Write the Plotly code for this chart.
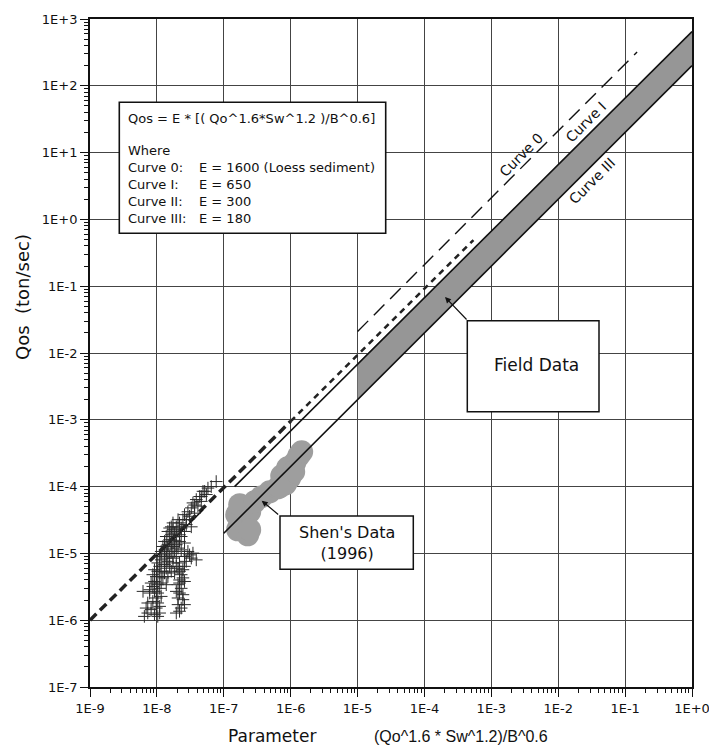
import plotly.graph_objects as go

# ---------------- data ----------------
x_tick_vals = [1e-9, 1e-8, 1e-7, 1e-6, 1e-5, 1e-4, 1e-3, 1e-2, 1e-1, 1e0]
x_tick_text = ["1E-9", "1E-8", "1E-7", "1E-6", "1E-5", "1E-4", "1E-3", "1E-2", "1E-1", "1E+0"]
y_tick_vals = [1e-7, 1e-6, 1e-5, 1e-4, 1e-3, 1e-2, 1e-1, 1e0, 1e1, 1e2, 1e3]
y_tick_text = ["1E-7", "1E-6", "1E-5", "1E-4", "1E-3", "1E-2", "1E-1", "1E+0", "1E+1", "1E+2", "1E+3"]

# Curve 0 (long dash)
curve0_x = [1e-5, 0.151]
curve0_y = [0.021, 320]
# Curve I (solid, upper edge of field-data band)
curve1_x = [1.45e-7, 1.0]
curve1_y = [1.0e-4, 650]
# Curve III (solid, lower edge of field-data band)
curve3_x = [1e-7, 1.0]
curve3_y = [2.0e-5, 200]
# short-dash line (thick lower part, thinner upper part)
dash_lo_x = [1e-9, 1e-6]
dash_lo_y = [1e-6, 9.5e-4]
dash_hi_x = [1e-6, 5.4e-4]
dash_hi_y = [9.5e-4, 0.49]
# short solid segment through the crosses
seg_x = [9.8e-9, 4.9e-8]
seg_y = [9.0e-6, 4.5e-5]
# field data band
band_x = [1e-5, 1.0, 1.0, 1e-5]
band_y = [0.007, 650, 200, 0.002]

# Shen's data (1996) - grey blob
shen_x = [1.61e-7, 2.05e-7, 1.56e-7, 2.44e-7, 1.73e-7, 2.89e-7, 3.68e-7, 4.85e-7,
          6.4e-7, 8.41e-7, 7.35e-7, 9.66e-7, 9.0e-7, 1.15e-6, 1.32e-6, 1.46e-6,
          1.11e-6, 2.28e-7, 2.44e-7, 6.86e-7]
shen_y = [2.26e-5, 2.97e-5, 3.79e-5, 4.2e-5, 5.35e-5, 5.93e-5, 7.05e-5, 8.36e-5,
          9.6e-5, 1.10e-4, 1.45e-4, 1.35e-4, 1.91e-4, 2.27e-4, 2.89e-4, 3.32e-4,
          1.67e-4, 1.90e-5, 2.26e-5, 9.93e-5]

# crosses (laboratory data)
cross_x = [7.7e-8, 5.8e-8, 4.89e-8, 5.49e-8, 4.36e-8, 3.88e-8, 4.61e-8, 3.46e-8, 4.11e-8, 3.27e-8,
           2.91e-8, 3.66e-8, 2.59e-8, 3.08e-8, 2.45e-8, 2.18e-8, 2.75e-8, 3.27e-8, 1.95e-8, 2.31e-8,
           1.74e-8, 2.07e-8, 2.59e-8, 1.64e-8, 1.95e-8, 2.31e-8, 1.55e-8, 1.84e-8, 2.18e-8, 2.59e-8,
           1.46e-8, 1.74e-8, 2.07e-8, 1.38e-8, 1.64e-8, 2.91e-8, 3.46e-8, 1.30e-8, 1.55e-8, 1.95e-8,
           3.27e-8, 3.88e-8, 1.16e-8, 1.46e-8, 1.74e-8, 2.18e-8, 2.75e-8, 1.10e-8, 1.38e-8, 2.07e-8,
           2.45e-8, 1.03e-8, 1.30e-8, 1.84e-8, 2.31e-8, 9.8e-9, 1.23e-8, 2.18e-8, 2.59e-8, 9.2e-9,
           1.16e-8, 2.07e-8, 8.7e-9, 1.10e-8, 2.31e-8, 6.2e-9, 7.8e-9, 1.03e-8, 2.18e-8, 9.8e-9,
           2.07e-8, 2.45e-8, 7.3e-9, 1.03e-8, 6.9e-9, 9.8e-9, 2.31e-8, 1.10e-8, 7.3e-9, 2.18e-8,
           1.03e-8,
           1.64e-8, 1.46e-8, 1.84e-8, 1.38e-8, 2.18e-8, 1.30e-8, 1.64e-8, 1.23e-8, 1.95e-8, 1.46e-8,
           1.16e-8, 1.84e-8, 2.31e-8, 1.10e-8, 1.38e-8, 1.74e-8, 2.59e-8, 3.08e-8, 1.03e-8, 1.30e-8,
           1.55e-8, 1.95e-8, 2.59e-8, 9.2e-9, 1.16e-8, 1.64e-8, 2.18e-8, 8.7e-9, 1.10e-8, 1.46e-8,
           2.45e-8, 8.2e-9, 1.03e-8, 1.38e-8, 2.18e-8, 7.8e-9, 9.2e-9, 1.16e-8, 1.95e-8, 2.45e-8,
           8.7e-9, 1.10e-8, 2.07e-8, 2.59e-8, 8.2e-9, 9.2e-9, 1.95e-8, 6.5e-9, 4.61e-8, 5.18e-8,
           6.5e-8, 3.66e-8, 2.75e-8, 2.07e-8, 1.74e-8, 1.55e-8]
cross_y = [1.19e-4, 9.5e-5, 8.5e-5, 7.6e-5, 7.1e-5, 6.4e-5, 6.0e-5, 5.7e-5, 5.1e-5, 4.8e-5,
           4.2e-5, 4.0e-5, 3.8e-5, 3.6e-5, 3.2e-5, 2.86e-5, 2.7e-5, 2.5e-5, 2.5e-5, 2.4e-5,
           2.26e-5, 2.13e-5, 2.13e-5, 1.90e-5, 1.79e-5, 1.79e-5, 1.60e-5, 1.57e-5, 1.51e-5, 1.43e-5,
           1.35e-5, 1.27e-5, 1.20e-5, 1.13e-5, 1.07e-5, 1.07e-5, 1.01e-5, 9.5e-6, 9.0e-6, 9.0e-6,
           8.5e-6, 8.0e-6, 8.0e-6, 7.6e-6, 7.2e-6, 7.2e-6, 7.6e-6, 6.4e-6, 6.0e-6, 6.0e-6,
           5.7e-6, 5.4e-6, 5.1e-6, 5.1e-6, 4.8e-6, 4.5e-6, 4.3e-6, 4.0e-6, 3.8e-6, 3.8e-6,
           3.6e-6, 3.4e-6, 3.2e-6, 3.0e-6, 3.0e-6, 2.70e-6, 2.55e-6, 2.55e-6, 2.55e-6, 2.15e-6,
           2.15e-6, 2.03e-6, 1.81e-6, 1.81e-6, 1.52e-6, 1.52e-6, 1.52e-6, 1.28e-6, 1.28e-6, 1.36e-6,
           1.14e-6,
           2.5e-5, 2.13e-5, 2.01e-5, 1.79e-5, 1.90e-5, 1.51e-5, 1.43e-5, 1.27e-5, 1.35e-5, 1.20e-5,
           1.07e-5, 1.07e-5, 1.13e-5, 9.0e-6, 8.5e-6, 8.5e-6, 9.0e-6, 9.5e-6, 7.2e-6, 6.8e-6,
           6.4e-6, 6.4e-6, 6.4e-6, 5.7e-6, 5.4e-6, 5.4e-6, 5.4e-6, 4.8e-6, 4.5e-6, 4.5e-6,
           4.3e-6, 3.6e-6, 3.4e-6, 3.4e-6, 3.6e-6, 2.86e-6, 2.70e-6, 2.27e-6, 2.70e-6, 2.41e-6,
           1.91e-6, 1.61e-6, 1.71e-6, 1.71e-6, 1.44e-6, 1.21e-6, 1.28e-6, 1.14e-6, 7.1e-5, 8.5e-5,
           1.0e-4, 5.3e-5, 3.2e-5, 3.2e-5, 2.86e-5, 2.4e-5]

legend_lines = ["Qos = E * [( Qo^1.6*Sw^1.2 )/B^0.6]", "Where"]
legend_curves = ["Curve 0:", "Curve I:", "Curve II:", "Curve III:"]
legend_E = ["E = 1600 (Loess sediment)", "E = 650", "E = 300", "E = 180"]

# ---------------- layout helpers (pixel -> paper) ----------------
W, H = 709, 746
L, R, T, B = 90, 17, 19, 59
PW, PH = W - L - R, H - T - B


def px(x):
    return (x - L) / PW


def py(y):
    return (H - B - y) / PH


FONT = "DejaVu Sans"
INK = "#111111"

fig = go.Figure()

fig.add_trace(go.Scatter(x=band_x, y=band_y, fill="toself", mode="lines",
                         fillcolor="rgb(150,150,150)", line=dict(width=0),
                         hoverinfo="skip", showlegend=False))
fig.add_trace(go.Scatter(x=shen_x, y=shen_y, mode="markers",
                         marker=dict(symbol="circle", size=23, color="rgb(158,158,158)"),
                         showlegend=False))
fig.add_trace(go.Scatter(x=curve1_x, y=curve1_y, mode="lines",
                         line=dict(color=INK, width=1.6), showlegend=False))
fig.add_trace(go.Scatter(x=curve3_x, y=curve3_y, mode="lines",
                         line=dict(color=INK, width=1.6), showlegend=False))
fig.add_trace(go.Scatter(x=curve0_x, y=curve0_y, mode="lines",
                         line=dict(color=INK, width=1.4, dash="15px,8px"), showlegend=False))
fig.add_trace(go.Scatter(x=dash_lo_x, y=dash_lo_y, mode="lines",
                         line=dict(color="#222", width=3.5, dash="9px,5px"), showlegend=False))
fig.add_trace(go.Scatter(x=dash_hi_x, y=dash_hi_y, mode="lines",
                         line=dict(color="#222", width=2.6, dash="6px,5px"), showlegend=False))
fig.add_trace(go.Scatter(x=seg_x, y=seg_y, mode="lines",
                         line=dict(color=INK, width=1.6), showlegend=False))
fig.add_trace(go.Scatter(x=cross_x, y=cross_y, mode="markers",
                         marker=dict(symbol="cross-thin", size=9,
                                     line=dict(width=1, color="#2a2a2a")),
                         showlegend=False))

axis_common = dict(
    type="log", showline=True, linecolor=INK, linewidth=1.8, mirror=True,
    showgrid=True, gridcolor="#444444", gridwidth=1.2,
    ticks="outside", ticklen=8, tickwidth=1, tickcolor=INK,
    tickmode="array", zeroline=False, automargin=False,
    ticklabeloverflow="allow",
    tickfont=dict(family=FONT, size=13, color=INK),
    minor=dict(ticks="outside", ticklen=4, tickwidth=1, tickcolor=INK,
               dtick="D1", showgrid=False),
)
fig.update_xaxes(range=[-9, 0], tickvals=x_tick_vals, ticktext=x_tick_text, **axis_common)
fig.update_yaxes(range=[-7, 3], tickvals=y_tick_vals, ticktext=y_tick_text, **axis_common)

shapes = []
ann = []

# legend box
shapes.append(dict(type="rect", xref="paper", yref="paper",
                   x0=px(119.3), x1=px(385.7), y0=py(233.3), y1=py(102.3),
                   line=dict(color=INK, width=1.6), fillcolor="white", layer="above"))
leg = []
leg.append(dict(text=legend_lines[0], x=px(126), y=py(119)))
leg.append(dict(text=legend_lines[1], x=px(126), y=py(150.7)))
for i, (c, e) in enumerate(zip(legend_curves, legend_E)):
    yy = py(167.7 + i * 17)
    leg.append(dict(text=c, x=px(126), y=yy))
    leg.append(dict(text=e, x=px(197), y=yy))
for a in leg:
    a.update(xref="paper", yref="paper", xanchor="left", yanchor="middle",
             showarrow=False, font=dict(family=FONT, size=13, color=INK))
ann.extend(leg)

# Field Data box
shapes.append(dict(type="rect", xref="paper", yref="paper",
                   x0=px(467.3), x1=px(599), y0=py(411.7), y1=py(320.7),
                   line=dict(color=INK, width=1.5), fillcolor="white", layer="above"))
ann.append(dict(text="Field Data", x=px(536), y=py(365), xref="paper", yref="paper",
                xanchor="center", yanchor="middle",
                showarrow=False, font=dict(family=FONT, size=17, color=INK)))
ann.append(dict(text="", x=px(445), y=py(297), xref="paper", yref="paper",
                ax=23, ay=24, showarrow=True, arrowhead=2, arrowsize=1,
                arrowwidth=1.2, arrowcolor=INK))

# Shen's Data box
shapes.append(dict(type="rect", xref="paper", yref="paper",
                   x0=px(280), x1=px(413.3), y0=py(569.3), y1=py(516),
                   line=dict(color=INK, width=1.5), fillcolor="white", layer="above"))
ann.append(dict(text="Shen's Data<br>(1996)", x=px(346.7), y=py(543), xref="paper", yref="paper",
                xanchor="center", yanchor="middle",
                showarrow=False, font=dict(family=FONT, size=16, color=INK)))
ann.append(dict(text="", x=px(261.7), y=py(500.7), xref="paper", yref="paper",
                ax=18, ay=15, showarrow=True, arrowhead=2, arrowsize=1,
                arrowwidth=1.2, arrowcolor=INK))

# rotated curve labels
for txt, cx, cy in [("Curve 0", 521, 155), ("Curve I", 586, 122), ("Curve III", 592, 181)]:
    ann.append(dict(text=txt, x=px(cx), y=py(cy), xref="paper", yref="paper",
                    xanchor="center", yanchor="middle",
                    showarrow=False, textangle=-45,
                    font=dict(family=FONT, size=14, color=INK)))

# axis titles
ann.append(dict(text="Qos  (ton/sec)", x=px(22), y=py(297), xref="paper", yref="paper",
                xanchor="center", yanchor="middle",
                showarrow=False, textangle=-90,
                font=dict(family=FONT, size=18, color=INK)))
ann.append(dict(text="Parameter", x=px(226), y=py(736), xref="paper", yref="paper",
                xanchor="left", yanchor="middle", showarrow=False,
                font=dict(family=FONT, size=17, color=INK)))
ann.append(dict(text="(Qo^1.6 * Sw^1.2)/B^0.6", x=px(372), y=py(736), xref="paper", yref="paper",
                xanchor="left", yanchor="middle", showarrow=False,
                font=dict(family="Liberation Sans", size=16, color=INK)))

fig.update_layout(
    width=W, height=H, margin=dict(l=L, r=R, t=T, b=B),
    paper_bgcolor="white", plot_bgcolor="white",
    shapes=shapes, annotations=ann, showlegend=False,
    font=dict(family=FONT, color=INK),
)

fig.write_html("out.html", config={"displayModeBar": False},
               post_script="document.body.style.margin='0px';document.body.style.overflow='hidden';")
